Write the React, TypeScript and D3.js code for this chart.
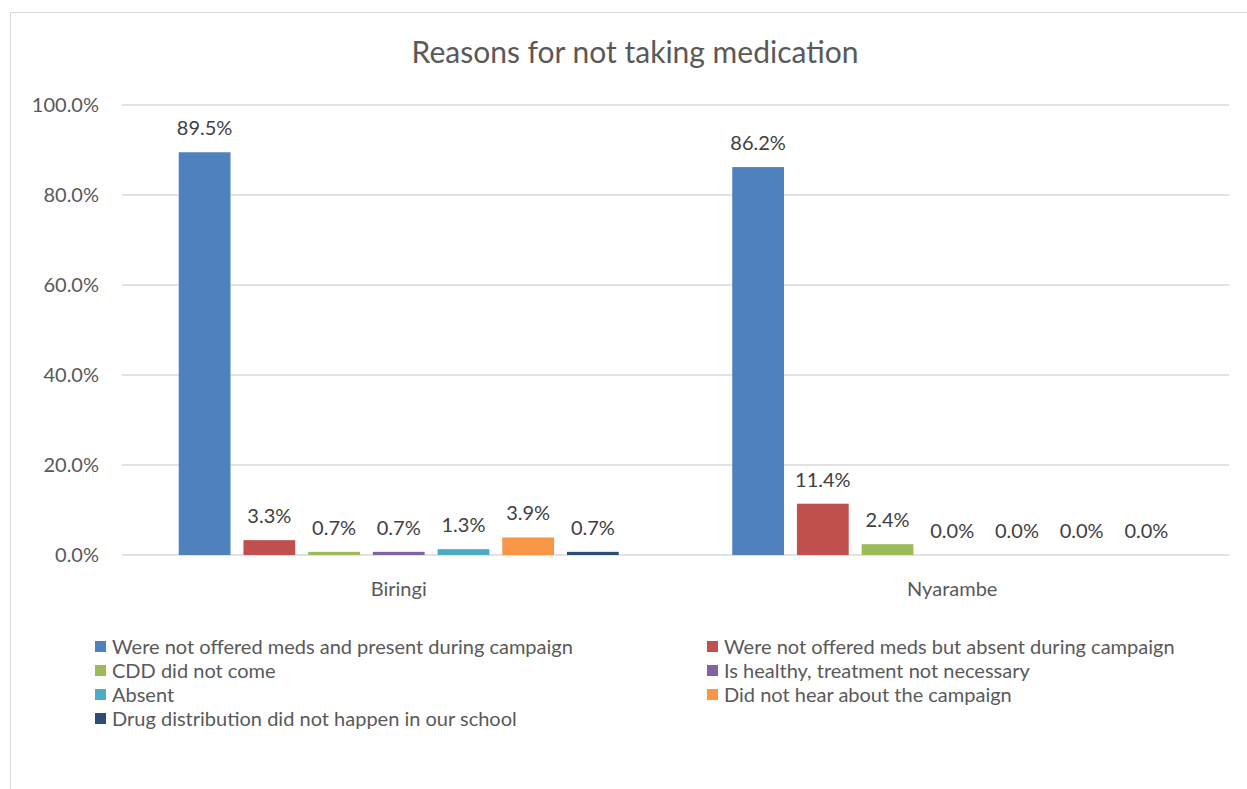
import React from "react";
import * as d3 from "d3";

const categories = ["Biringi", "Nyarambe"];
const seriesNames = [
  "Were not offered meds and present during campaign",
  "Were not offered meds but absent during campaign",
  "CDD did not come",
  "Is healthy, treatment not necessary",
  "Absent",
  "Did not hear about the campaign",
  "Drug distribution did not happen in our school",
];
const biringiValues = [89.5, 3.3, 0.7, 0.7, 1.3, 3.9, 0.7];
const nyarambeValues = [86.2, 11.4, 2.4, 0.0, 0.0, 0.0, 0.0];
const seriesColors = ["#4F81BD", "#C0504D", "#9BBB59", "#8064A2", "#4BACC6", "#F79646", "#2C4D75"];
const yTicks = [0, 20, 40, 60, 80, 100];
const title = "Reasons for not taking medication";

const W = 1247;
const H = 789;
const FONT = "Lato, 'Open Sans', sans-serif";

export default function App() {
  const plotLeft = 122;
  const plotRight = 1229;
  const plotTop = 105;
  const plotBottom = 555;

  const y = d3.scaleLinear().domain([0, 100]).range([plotBottom, plotTop]);
  const x0 = d3
    .scaleBand<string>()
    .domain(categories)
    .range([plotLeft, plotRight])
    .paddingInner(0.205)
    .paddingOuter(0.1025);
  const x1 = d3
    .scaleBand<string>()
    .domain(seriesNames)
    .range([0, x0.bandwidth()])
    .paddingInner(0.2)
    .paddingOuter(0);

  const valuesByCat = [biringiValues, nyarambeValues];
  const fmt = (v: number) => v.toFixed(1) + "%";

  const legendCols = [95, 707];
  const legendRowY = [647, 671, 695, 719];

  return (
    <svg
      width={W}
      height={H}
      style={{ position: "absolute", left: 0, top: 0, background: "#fff" }}
      fontFamily={FONT}
    >
      <rect x={0} y={0} width={W} height={H} fill="#fff" />
      <rect x={10.5} y={12.5} width={1400} height={1000} fill="#fff" stroke="#D9D9D9" strokeWidth={1} />
      <text x={635} y={63} textAnchor="middle" fontSize={30} fill="#595959">
        {title}
      </text>
      {yTicks.map((t) => (
        <g key={t}>
          <line x1={plotLeft} x2={plotRight} y1={y(t)} y2={y(t)} stroke="#D9D9D9" strokeWidth={1.3} />
          <text x={99} y={y(t)} dy="0.35em" textAnchor="end" fontSize={20} fill="#595959">
            {t.toFixed(1) + "%"}
          </text>
        </g>
      ))}
      {categories.map((c, ci) => (
        <g key={c} transform={`translate(${x0(c)},0)`}>
          {seriesNames.map((s, si) => {
            const v = valuesByCat[ci][si];
            const bx = x1(s)!;
            return (
              <g key={s}>
                {v > 0 && (
                  <rect x={bx} y={y(v)} width={x1.bandwidth()} height={y(0) - y(v)} fill={seriesColors[si]} />
                )}
                <text
                  x={bx + x1.bandwidth() / 2}
                  y={y(v) - 17}
                  textAnchor="middle"
                  fontSize={20}
                  fill="#404040"
                >
                  {fmt(v)}
                </text>
              </g>
            );
          })}
          <text x={x0.bandwidth() / 2} y={596} textAnchor="middle" fontSize={20} fill="#595959">
            {c}
          </text>
        </g>
      ))}
      {seriesNames.map((s, i) => {
        const col = i % 2;
        const row = Math.floor(i / 2);
        const lx = legendCols[col];
        const ly = legendRowY[row];
        return (
          <g key={s}>
            <rect x={lx} y={ly - 6} width={11} height={11} fill={seriesColors[i]} />
            <text x={lx + 17} y={ly} dy="0.35em" fontSize={20} fill="#595959">
              {s}
            </text>
          </g>
        );
      })}
    </svg>
  );
}
